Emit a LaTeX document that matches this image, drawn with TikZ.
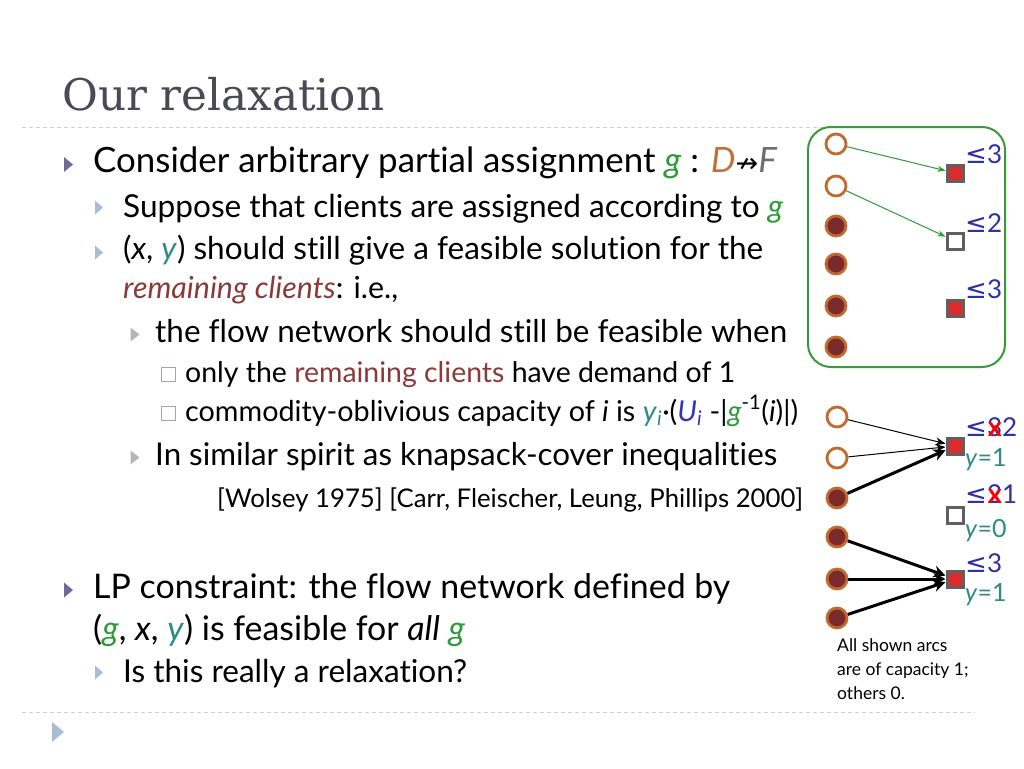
\documentclass[tikz,border=0pt]{standalone}
\usepackage{fontspec}
\usepackage{graphicx}
\setmainfont{Lato}[Ligatures=NoCommon]
\newfontfamily\titlefont{DejaVu Serif}
\newfontfamily\symf{DejaVu Sans}
\usetikzlibrary{arrows.meta}
\definecolor{cG}{HTML}{2E9A3A}
\definecolor{cD}{HTML}{C0703A}
\definecolor{cF}{HTML}{6E6E6E}
\definecolor{cY}{HTML}{2F8C80}
\definecolor{cU}{HTML}{3535B5}
\definecolor{cRem}{HTML}{8B3A3A}
\definecolor{cTitle}{HTML}{4A4A55}
\definecolor{cB1}{HTML}{6A6E96}
\definecolor{cB2}{HTML}{A9BCD4}
\definecolor{cB3}{HTML}{B5B5B5}
\definecolor{cB4}{HTML}{9AA7B8}
\definecolor{cOr}{HTML}{C06A30}
\definecolor{cDark}{HTML}{7A2A2A}
\definecolor{cSq}{HTML}{606060}
\definecolor{cRed}{HTML}{DD2B2B}
\definecolor{cLab}{HTML}{3030A8}
\definecolor{cFrame}{HTML}{3A9A3A}
\definecolor{cDash}{HTML}{CFCFCF}
\newcommand\fitw[2]{\resizebox{#1pt}{!}{#2}}
\begin{document}
\begin{tikzpicture}[x=1pt,y=-1pt,
  txt/.style={anchor=base west, inner sep=0pt},
  client/.style={circle, draw=cOr, line width=2.8pt, minimum size=20pt, inner sep=0pt, fill=white},
  clientR/.style={client, fill=cDark},
  fac/.style={rectangle, draw=cSq, line width=3pt, minimum size=16pt, inner sep=0pt, fill=white},
  facO/.style={fac, fill=cRed},
  lab/.style={txt, text=cLab, font=\fontsize{26}{28}\selectfont},
  ylab/.style={txt, text=cY, font=\fontsize{25}{28}\selectfont},
  note/.style={txt, font=\fontsize{17.5}{20}\selectfont},
  garrow/.style={draw=cG, line width=1pt, -{Stealth[length=8pt,width=6pt]}},
  thin/.style={draw=black, line width=1pt, -{Stealth[length=10pt,width=8pt]}},
  thick/.style={draw=black, line width=3pt, -{Stealth[length=12pt,width=12pt]}},
  sep/.style={draw=cDash, line width=1pt, dash pattern=on 4pt off 3pt},
  triA/.pic={\fill[cB1] (-4.5,-7.5) -- (4.5,0) -- (-4.5,7.5) -- cycle;},
  triB/.pic={\fill[cB2] (-4,-7) -- (4,0) -- (-4,7) -- cycle;},
  triC/.pic={\fill[cB3] (-4.5,-7) -- (4.5,0) -- (-4.5,7) -- cycle;},
  sqD/.pic={\draw[cB4, line width=1pt] (-7,-7) rectangle (7,7);},
]
\useasboundingbox (0,0) rectangle (1024,768);
\fill[white] (0,0) rectangle (1024,768);

% title and separators
\node[txt, text=cTitle, font=\titlefont\fontsize{40}{46}\selectfont] (title) at (62,110) {\fitw{322}{Our relaxation}};
\draw[sep] (22,127.5) -- (975,127.5);
\draw[sep] (22,712) -- (975,712);
\fill[cB2] (52,722) -- (64,732) -- (52,742) -- cycle;

% bullets
\pic at (68.5,164.5) {triA};
\pic at (99,207.5) {triB};
\pic at (99,252.5) {triB};
\pic at (135,334.5) {triC};
\pic at (168.5,374.5) {sqD};
\pic at (168.5,413.5) {sqD};
\pic at (135,457.5) {triC};
\pic at (68.5,590) {triA};
\pic at (99,672.5) {triB};

% text lines
\node[txt, font=\fontsize{31}{36}\selectfont] (l1) at (93,172) {\fitw{684}{Consider arbitrary partial assignment \textcolor{cG}{\textit{g}} : \textcolor{cD}{\textit{D}}{\symf\fontsize{24}{28}\selectfont ↛}\textcolor{cF}{\textit{F}}}};
\node[txt, font=\fontsize{28}{32}\selectfont] (l2) at (123,217) {\fitw{660}{Suppose that clients are assigned according to \textcolor{cG}{\textit{g}}}};
\node[txt, font=\fontsize{28}{32}\selectfont] (l3) at (123,259) {\fitw{640}{(\textit{x}, \textcolor{cY}{\textit{y}}) should still give a feasible solution for the}};
\node[txt, font=\fontsize{28}{32}\selectfont] (l4) at (123,298) {\fitw{275}{\textcolor{cRem}{\textit{remaining clients}}: i.e.,}};
\node[txt, font=\fontsize{28}{32}\selectfont] (l5) at (155,342) {\fitw{632}{the flow network should still be feasible when}};
\node[txt, font=\fontsize{23}{28}\selectfont] (l6) at (185,382) {\fitw{550}{only the \textcolor{cRem}{remaining clients} have demand of 1}};
\node[txt, font=\fontsize{23}{28}\selectfont] (l7) at (185,421) {\fitw{613}{commodity-oblivious capacity of \textit{i} is \textcolor{cY}{\textit{y}\textsubscript{\textit{i}}}·(\textcolor{cU}{\textit{U}\textsubscript{\textit{i}}} -|\textcolor{cG}{\textit{g}}\textsuperscript{-1}(\textit{i})|)}};
\node[txt, font=\fontsize{28}{32}\selectfont] (l8) at (155,465) {\fitw{622}{In similar spirit as knapsack-cover inequalities}};
\node[txt, font=\fontsize{23}{28}\selectfont] (l9) at (217,507) {\fitw{586}{[Wolsey 1975] [Carr, Fleischer, Leung, Phillips 2000]}};
\node[txt, font=\fontsize{31}{36}\selectfont] (l10) at (93,598) {\fitw{637}{LP constraint: the flow network defined by}};
\node[txt, font=\fontsize{31}{36}\selectfont] (l11) at (93,640) {\fitw{372}{(\textcolor{cG}{\textit{g}}, \textit{x}, \textcolor{cY}{\textit{y}}) is feasible for \textit{all} \textcolor{cG}{\textit{g}}}};
\node[txt, font=\fontsize{28}{32}\selectfont] (l12) at (123,682) {\fitw{344}{Is this really a relaxation?}};

% top diagram
\draw[cFrame, line width=2pt, rounded corners=23pt] (808,127) rectangle (1005,367);
\node[client] (a1) at (836,144) {};
\node[client] (a2) at (836,186) {};
\node[clientR] (a3) at (836,226) {};
\node[clientR] (a4) at (836,264) {};
\node[clientR] (a5) at (836,306) {};
\node[clientR] (a6) at (836,347) {};
\node[facO] (f1) at (955,173) {};
\node[fac] (f2) at (955,241) {};
\node[facO] (f3) at (955,308) {};
\node[lab] (fl1) at (965,163) {{\symf ≤}3};
\node[lab] (fl2) at (965,232) {{\symf ≤}2};
\node[lab] (fl3) at (965,298) {{\symf ≤}3};
\draw[garrow] (a1) -- (f1);
\draw[garrow] (a2) -- (f2);

% bottom diagram
\node[client] (b1) at (837,417) {};
\node[client] (b2) at (837,458) {};
\node[clientR] (b3) at (837,498) {};
\node[clientR] (b4) at (837,537) {};
\node[clientR] (b5) at (837,579) {};
\node[clientR] (b6) at (837,618) {};
\node[facO] (g1) at (955,446) {};
\node[fac] (g2) at (955,515) {};
\node[facO] (g3) at (955,579) {};
\node[lab] (gl1) at (965,436) {{\symf ≤}\rlap{3}\hphantom{3}\llap{\textcolor{red}{\bfseries\fontsize{27}{28}\selectfont x}}2};
\node[ylab] (gy1) at (965,466) {\textit{y}=1};
\node[lab] (gl2) at (965,503) {{\symf ≤}\rlap{2}\hphantom{2}\llap{\textcolor{red}{\bfseries\fontsize{27}{28}\selectfont x}}1};
\node[ylab] (gy2) at (965,537) {\textit{y}=0};
\node[lab] (gl3) at (965,572) {{\symf ≤}3};
\node[ylab] (gy3) at (965,601) {\textit{y}=1};
\draw[thin] (b1) -- (g1);
\draw[thin] (b2) -- (g1);
\draw[thick] (b3) -- (g1);
\draw[thick] (b4) -- (g3);
\draw[thick] (b5) -- (g3);
\draw[thick] (b6) -- (g3);
\node[note] (n1) at (837,651) {All shown arcs};
\node[note] (n2) at (837,675) {are of capacity 1;};
\node[note] (n3) at (837,699) {others 0.};
\end{tikzpicture}
\end{document}
